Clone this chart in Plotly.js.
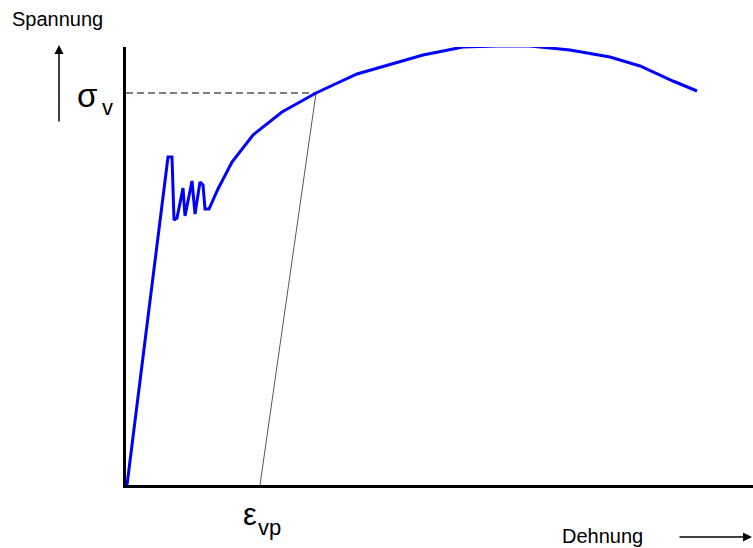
<!DOCTYPE html>
<html>
<head>
<meta charset="utf-8">
<script src="https://cdn.plot.ly/plotly-3.0.1.min.js"></script>
<style>html,body{margin:0;padding:0;background:#fff;}#chart{width:753px;height:548px;}</style>
</head>
<body>
<div id="chart"></div>
<script>
// Stress-strain curve (arbitrary units)
const strain = [1, 42, 46, 48, 51, 57, 59, 66, 69, 74, 77, 79, 83, 92, 106, 127, 156, 190, 231, 297, 337, 371, 404, 444, 484, 514, 547, 571];
const stress = [0, 328, 328, 265, 267, 297, 269, 304, 271, 303, 300, 276, 276, 296, 323, 350, 373, 392, 411, 430, 438, 439, 439, 435, 428, 419, 404, 394];

// Unloading line (parallel to elastic slope) and yield-level guide
const offsetStrain = [134, 190];
const offsetStress = [0, 392];
const guideStrain = [0, 190];
const guideStress = [392, 392];

const labelSpannung = "Spannung";
const labelDehnung = "Dehnung";

const W = 753, H = 548;
const M = {l: 126, r: 0, t: 47, b: 63};
const pw = W - M.l - M.r, ph = H - M.t - M.b;
const px = x => (x - M.l) / pw;
const py = y => (H - M.b - y) / ph;

const traces = [
  {x: guideStrain, y: guideStress, mode: 'lines', line: {color: '#555', width: 1.3, dash: '7px,4px'}, hoverinfo: 'skip'},
  {x: offsetStrain, y: offsetStress, mode: 'lines', line: {color: '#444', width: 0.9}, hoverinfo: 'skip'},
  {x: strain, y: stress, mode: 'lines', line: {color: '#0000ff', width: 3}, hoverinfo: 'skip'}
];

const font = 'Liberation Sans, Arial, sans-serif';
const layout = {
  width: W, height: H,
  margin: M,
  showlegend: false,
  paper_bgcolor: '#fff', plot_bgcolor: '#fff',
  xaxis: {range: [0, pw], showline: true, linecolor: '#000', linewidth: 3, showgrid: false, zeroline: false, showticklabels: false, ticks: ''},
  yaxis: {range: [0, ph], showline: true, linecolor: '#000', linewidth: 3, showgrid: false, zeroline: false, showticklabels: false, ticks: ''},
  annotations: [
    {xref: 'paper', yref: 'paper', x: px(10), y: py(19), xanchor: 'left', yanchor: 'middle', text: labelSpannung, showarrow: false, font: {family: font, size: 20, color: '#000'}},
    {xref: 'paper', yref: 'paper', x: px(645), y: py(536), xanchor: 'right', yanchor: 'middle', text: labelDehnung, showarrow: false, font: {family: font, size: 20, color: '#000'}},
    {xref: 'paper', yref: 'paper', x: px(99), y: py(95), xanchor: 'right', yanchor: 'middle', text: 'σ', showarrow: false, font: {family: font, size: 33, color: '#000'}},
    {xref: 'paper', yref: 'paper', x: px(100), y: py(108), xanchor: 'left', yanchor: 'middle', text: 'v', showarrow: false, font: {family: font, size: 22, color: '#000'}},
    {xref: 'paper', yref: 'paper', x: px(259), y: py(514), xanchor: 'right', yanchor: 'middle', text: 'ε', showarrow: false, font: {family: font, size: 31, color: '#000'}},
    {xref: 'paper', yref: 'paper', x: px(256), y: py(527), xanchor: 'left', yanchor: 'middle', text: 'vp', showarrow: false, font: {family: font, size: 22, color: '#000'}},
    {xref: 'paper', yref: 'paper', x: px(59), y: py(45), text: '', showarrow: true, ax: 0, ay: 78, arrowhead: 2, arrowsize: 1.2, arrowwidth: 1.5, arrowcolor: '#000', standoff: 0, startstandoff: 0},
    {xref: 'paper', yref: 'paper', x: px(752), y: py(537), text: '', showarrow: true, ax: -74, ay: 0, arrowhead: 2, arrowsize: 1.2, arrowwidth: 1.5, arrowcolor: '#000', standoff: 0, startstandoff: 0}
  ]
};

Plotly.newPlot('chart', traces, layout, {staticPlot: true, displayModeBar: false});
</script>
</body>
</html>
